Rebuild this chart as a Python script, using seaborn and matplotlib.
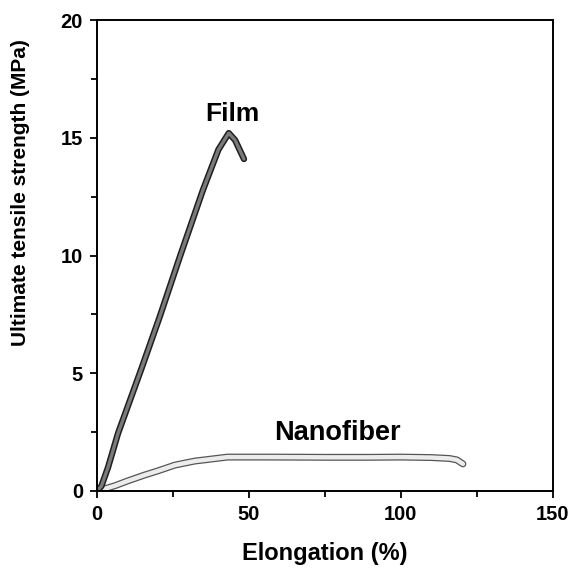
import pandas as pd
import seaborn as sns
import matplotlib.pyplot as plt
from matplotlib.ticker import MultipleLocator

# Film curve
film_elong = [0, 1.5, 3.7, 7.0, 14.7, 20.7, 27.3, 34.9, 40.0, 43.4, 45.5, 48.4]
film_uts = [0, 0.2, 1.0, 2.45, 5.2, 7.4, 9.94, 12.78, 14.5, 15.2, 14.9, 14.1]

# Nanofiber curve
nano_elong = [0, 2, 5.9, 10, 15.8, 20, 25.7, 32.2, 43, 57, 75, 90, 100, 110, 116, 118.4, 120.4]
nano_uts = [0, 0.07, 0.22, 0.42, 0.68, 0.85, 1.1, 1.27, 1.44, 1.44, 1.43, 1.43, 1.44, 1.42, 1.38, 1.32, 1.15]

film = pd.DataFrame({'elong': film_elong, 'uts': film_uts})
nano = pd.DataFrame({'elong': nano_elong, 'uts': nano_uts})

sns.set_style("ticks")
plt.rcParams['font.family'] = ['Liberation Sans', 'DejaVu Sans']
plt.rcParams['font.weight'] = 'bold'
plt.rcParams['text.color'] = 'black'
plt.rcParams['axes.labelcolor'] = 'black'

fig = plt.figure(figsize=(5.76, 5.68), dpi=100)
ax = fig.add_axes([0.168, 0.1356, 0.792, 0.829])

# outlined thick lines, like the scanned figure
sns.lineplot(data=nano, x='elong', y='uts', ax=ax, color='#555555', lw=5, sort=False)
sns.lineplot(data=nano, x='elong', y='uts', ax=ax, color='#ececec', lw=3.2, sort=False)
sns.lineplot(data=film, x='elong', y='uts', ax=ax, color='#1e1e1e', lw=4.6, sort=False)
sns.lineplot(data=film, x='elong', y='uts', ax=ax, color='#7a7a7a', lw=2.4, sort=False)

ax.set_xlim(0, 150)
ax.set_ylim(0, 20)
ax.xaxis.set_major_locator(MultipleLocator(50))
ax.xaxis.set_minor_locator(MultipleLocator(25))
ax.yaxis.set_major_locator(MultipleLocator(5))
ax.yaxis.set_minor_locator(MultipleLocator(2.5))
ax.tick_params(which='both', direction='out', width=1.3, labelsize=14.5, colors='black')
ax.tick_params(which='major', length=5, pad=5)
ax.tick_params(which='minor', length=4)
for lbl in ax.get_xticklabels() + ax.get_yticklabels():
    lbl.set_fontweight('bold')
for s in ax.spines.values():
    s.set_linewidth(1.4)
    s.set_color('black')

ax.set_xlabel('Elongation (%)', fontsize=17, fontweight='bold', labelpad=13)
ax.set_ylabel('Ultimate tensile strength (MPa)', fontsize=15, fontweight='bold')
# label sits a bit above the middle in the original
ax.yaxis.set_label_coords(-0.147, 0.633)

ax.text(44.7, 16.0, 'Film', fontsize=19, fontweight='bold', ha='center', va='center')
ax.text(79.1, 2.46, 'Nanofiber', fontsize=19.5, fontweight='bold', ha='center', va='center')

fig.savefig('out.png', dpi=100)
